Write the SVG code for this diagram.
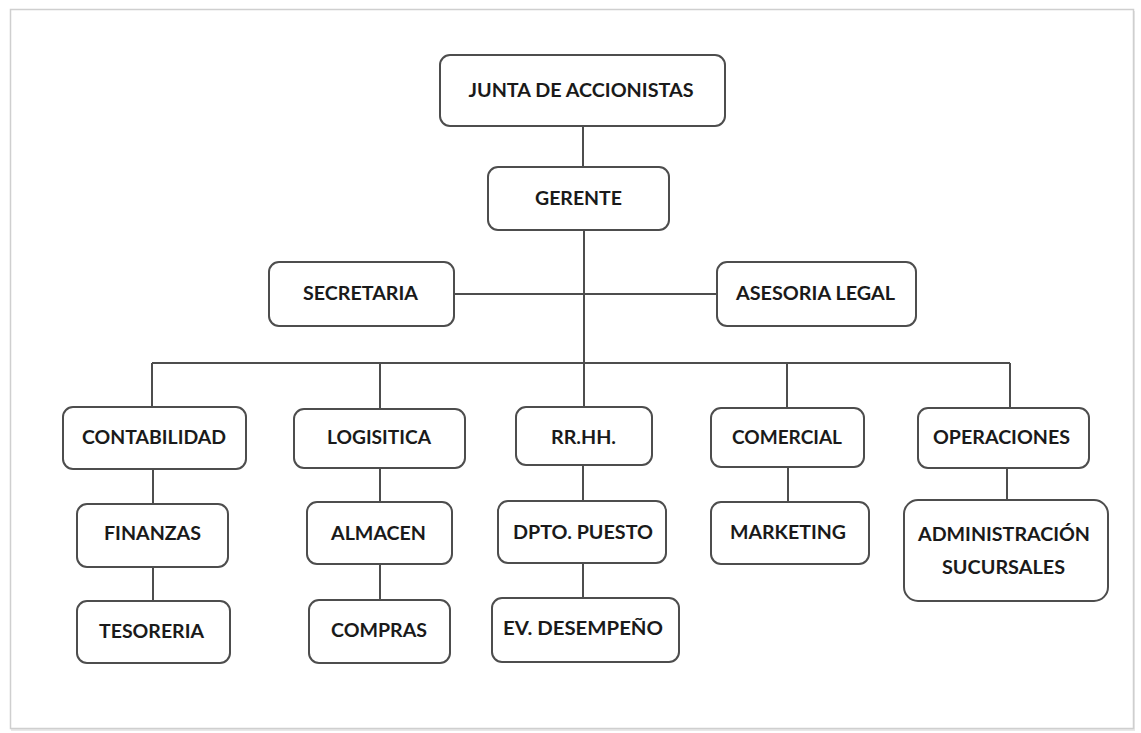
<svg xmlns="http://www.w3.org/2000/svg" width="1141" height="733" viewBox="0 0 1141 733">
<style>
.box{fill:#fff;stroke:#4d4d4d;stroke-width:2}
.lbl{font-family:Lato,"Open Sans","Liberation Sans",sans-serif;font-weight:700;font-size:19px;fill:#1a1a1a;text-anchor:middle}
.con{stroke:#4d4d4d;stroke-width:2;fill:none}
</style>
<rect x="0" y="0" width="1141" height="733" fill="#fff"/>
<rect x="11" y="11" width="1124" height="720" fill="#e9e9e9"/>
<rect x="10.5" y="9.5" width="1123" height="719" fill="#fff" stroke="#cfcfcf" stroke-width="1.5"/>
<g id="connectors">
<path class="con" d="M583 126V167 M584 230V407 M454 294H717 M152 363H1010 M152 363V407 M380 363V409 M787 363V408 M1010 363V408 M153 469V504 M153 567V601 M380 468V502 M380 564V600 M583 465V501 M583 563V598 M788 467V502 M1007 468V500"/>
</g>
<g id="junta"><rect class="box" x="440" y="55" width="285" height="71" rx="10"/><text class="lbl" x="581" y="97" textLength="225" lengthAdjust="spacingAndGlyphs">JUNTA DE ACCIONISTAS</text></g>
<g id="gerente"><rect class="box" x="488" y="167" width="181" height="63" rx="10"/><text class="lbl" x="578.5" y="205" textLength="87" lengthAdjust="spacingAndGlyphs">GERENTE</text></g>
<g id="secretaria"><rect class="box" x="269" y="262" width="185" height="64" rx="10"/><text class="lbl" x="360.5" y="300" textLength="115" lengthAdjust="spacingAndGlyphs">SECRETARIA</text></g>
<g id="asesoria"><rect class="box" x="717" y="262" width="199" height="64" rx="10"/><text class="lbl" x="815.5" y="300" textLength="159" lengthAdjust="spacingAndGlyphs">ASESORIA LEGAL</text></g>
<g id="contabilidad"><rect class="box" x="63" y="407" width="183" height="62" rx="10"/><text class="lbl" x="154" y="444" textLength="144" lengthAdjust="spacingAndGlyphs">CONTABILIDAD</text></g>
<g id="logisitica"><rect class="box" x="294" y="409" width="171" height="59" rx="10"/><text class="lbl" x="379" y="444" textLength="104" lengthAdjust="spacingAndGlyphs">LOGISITICA</text></g>
<g id="rrhh"><rect class="box" x="516" y="407" width="136" height="58" rx="10"/><text class="lbl" x="583.5" y="443.5" textLength="65" lengthAdjust="spacingAndGlyphs">RR.HH.</text></g>
<g id="comercial"><rect class="box" x="711" y="408" width="153" height="59" rx="10"/><text class="lbl" x="787" y="444" textLength="110" lengthAdjust="spacingAndGlyphs">COMERCIAL</text></g>
<g id="operaciones"><rect class="box" x="918" y="408" width="171" height="60" rx="10"/><text class="lbl" x="1001.5" y="444" textLength="137" lengthAdjust="spacingAndGlyphs">OPERACIONES</text></g>
<g id="finanzas"><rect class="box" x="77" y="504" width="151" height="63" rx="10"/><text class="lbl" x="152.5" y="540" textLength="97" lengthAdjust="spacingAndGlyphs">FINANZAS</text></g>
<g id="almacen"><rect class="box" x="307" y="502" width="145" height="62" rx="10"/><text class="lbl" x="378.5" y="540" textLength="95" lengthAdjust="spacingAndGlyphs">ALMACEN</text></g>
<g id="dpto"><rect class="box" x="498" y="501" width="168" height="62" rx="10"/><text class="lbl" x="583" y="539" textLength="140" lengthAdjust="spacingAndGlyphs">DPTO. PUESTO</text></g>
<g id="marketing"><rect class="box" x="711" y="502" width="158" height="62" rx="10"/><text class="lbl" x="788" y="539" textLength="116" lengthAdjust="spacingAndGlyphs">MARKETING</text></g>
<g id="administracion"><rect class="box" x="904" y="500" width="204" height="101" rx="14"/><text class="lbl" x="1004" y="541" textLength="172" lengthAdjust="spacingAndGlyphs">ADMINISTRACIÓN</text><text class="lbl" x="1003.5" y="574" textLength="123" lengthAdjust="spacingAndGlyphs">SUCURSALES</text></g>
<g id="tesoreria"><rect class="box" x="77" y="601" width="153" height="62" rx="10"/><text class="lbl" x="151.5" y="638" textLength="105" lengthAdjust="spacingAndGlyphs">TESORERIA</text></g>
<g id="compras"><rect class="box" x="309" y="600" width="141" height="63" rx="10"/><text class="lbl" x="379" y="637" textLength="96" lengthAdjust="spacingAndGlyphs">COMPRAS</text></g>
<g id="desempeno"><rect class="box" x="492" y="598" width="187" height="64" rx="10"/><text class="lbl" x="583" y="635" textLength="160" lengthAdjust="spacingAndGlyphs">EV. DESEMPEÑO</text></g>
</svg>
